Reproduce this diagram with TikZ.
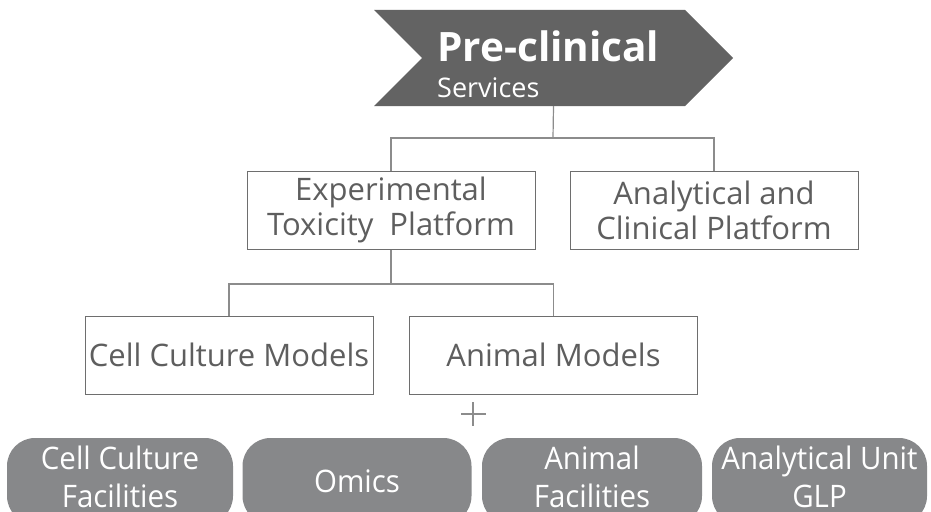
\documentclass[tikz,border=0pt]{standalone}
\usepackage{fontspec}
\setmainfont{Open Sans}
\newfontfamily\condfont[FakeStretch=0.95]{Open Sans}
\usepackage{tikz}
\usetikzlibrary{shapes.symbols,positioning}

\definecolor{chevgray}{HTML}{636363}
\definecolor{unitgray}{HTML}{87888A}
\definecolor{boxline}{HTML}{6E6E6E}
\definecolor{boxtext}{HTML}{5E5E5E}
\definecolor{linkgray}{HTML}{8C8C8C}

\begin{document}
\begin{tikzpicture}[x=1pt,y=-1pt,
    plat/.style={draw=boxline,line width=1pt,minimum width=288pt,minimum height=78pt,
      inner sep=0pt,align=center,text=boxtext,font=\fontsize{31}{35}\selectfont},
    unit/.style={fill=unitgray,rounded corners=28pt,minimum height=86pt,inner sep=0pt,
      align=center,text=white,font=\condfont\fontsize{31}{38}\selectfont},
    unitlabel/.style={inner sep=0pt,align=center,text=white,
      font=\condfont\fontsize{31}{38}\selectfont},
    link/.style={draw=linkgray,line width=1.2pt}]
        \path[use as bounding box,clip] (0,0) rectangle (931,511);
        % head of the tree
        \node[signal,signal to=east,signal from=west,fill=chevgray,
          minimum width=359pt,minimum height=96pt,inner sep=0pt] (pre) at (553.5,58) {};
        \node[anchor=base west,inner sep=0pt,text=white,
          font=\fontsize{40.5}{40.5}\selectfont\bfseries] (pretitle) at (437,62) {Pre-clinical};
        \node[anchor=base west,inner sep=0pt,text=white,
          font=\fontsize{27}{27}\selectfont] (presub) at (437,97) {Services};
        % platforms
        \node[plat] (exp) at (391,210) {Experimental\\Toxicity\ \ Platform};
        \node[plat] (ana) at (714,210) {Analytical and\\Clinical Platform};
        \node[plat] (cell) at (229,355) {Cell Culture Models};
        \node[plat] (anim) at (553.5,355) {Animal Models};
        \coordinate (bus1) at (553,138);
        \coordinate (bus2) at (391,284);
        \draw[link] (pre.south) -- (bus1);
        \draw[link] (exp.north) |- (bus1) -| (ana.north);
        \draw[link] (exp.south) -- (bus2);
        \draw[link] (cell.north) |- (bus2) -| (anim.north);
        \draw[link] (461,414) -- (486,414) (473,402) -- (473,426);
        % facilities
        \node[unit,minimum width=226pt] (ccf) at (120,481) {};
        \node[unit,minimum width=229pt] (omics) at (357,481) {Omics};
        \node[unit,minimum width=220pt] (anf) at (592,481) {};
        \node[unit,minimum width=215pt] (glp) at (819.5,481) {};
        \node[unitlabel] (ccftext) at (120,477) {Cell Culture\\Facilities};
        \node[unitlabel] (anftext) at (592,477) {Animal\\Facilities};
        \node[unitlabel] (glptext) at (819.5,477) {Analytical Unit\\GLP};
    \end{tikzpicture}
\end{document}
